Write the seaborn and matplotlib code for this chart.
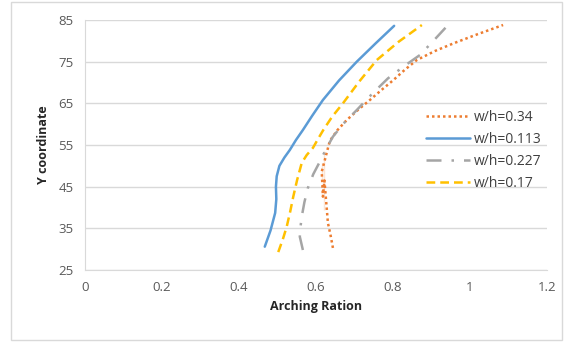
import matplotlib
matplotlib.use("Agg")
import matplotlib.pyplot as plt
import seaborn as sns
import pandas as pd

# w/h = 0.34 (dotted orange)
x_034 = [0.644, 0.638, 0.631, 0.622, 0.618, 0.615, 0.615, 0.622, 0.636, 0.655, 0.680,
         0.710, 0.740, 0.770, 0.800, 0.830, 0.862, 0.910, 0.960, 1.020, 1.086]
y_034 = [30.3, 33.3, 36.3, 39.5, 42.6, 46.5, 50.7, 53.5, 56.0, 58.5, 61.0,
         63.5, 65.8, 68.2, 70.5, 73.0, 75.4, 77.6, 79.5, 81.6, 83.8]

# w/h = 0.113 (solid blue)
x_0113 = [0.467, 0.482, 0.494, 0.497, 0.496, 0.498, 0.505, 0.518, 0.532, 0.548, 0.566,
          0.590, 0.618, 0.660, 0.706, 0.755, 0.803]
y_0113 = [30.6, 34.5, 38.7, 42.0, 45.0, 47.5, 50.0, 52.0, 53.8, 56.2, 58.6,
          62.0, 65.8, 70.5, 75.0, 79.4, 83.6]

# w/h = 0.227 (dash-dot gray)
x_0227 = [0.566, 0.558, 0.560, 0.563, 0.570, 0.579, 0.593, 0.610, 0.626, 0.644, 0.672,
          0.706, 0.745, 0.787, 0.830, 0.870, 0.905, 0.943]
y_0227 = [29.8, 33.0, 35.5, 37.8, 41.3, 44.7, 48.0, 51.0, 54.0, 57.0, 60.2,
          63.4, 67.2, 71.0, 74.0, 76.6, 80.0, 83.8]

# w/h = 0.17 (dashed gold)
x_017 = [0.502, 0.514, 0.524, 0.533, 0.541, 0.551, 0.563, 0.576, 0.592, 0.605, 0.619,
         0.642, 0.670, 0.712, 0.758, 0.815, 0.875]
y_017 = [29.3, 32.4, 35.4, 39.0, 42.6, 46.6, 50.7, 52.6, 54.3, 56.4, 58.6,
         61.8, 65.0, 70.2, 75.4, 79.8, 83.8]

series = [
    ("w/h=0.34", x_034, y_034, "#ED7D31", (0, (1, 1.2))),
    ("w/h=0.113", x_0113, y_0113, "#5B9BD5", "-"),
    ("w/h=0.227", x_0227, y_0227, "#A5A5A5", (0, (6, 4, 1, 4))),
    ("w/h=0.17", x_017, y_017, "#FFC000", (0, (3.5, 2))),
]

sns.set_style("white")
plt.rcParams["font.family"] = ["Open Sans", "DejaVu Sans"]

fig = plt.figure(figsize=(5.68, 3.42), dpi=100)
ax = fig.add_axes([0.1496, 0.2105, 0.8134, 0.731])

for name, xs, ys, col, ls in series:
    df = pd.DataFrame({"x": xs, "y": ys})
    sns.lineplot(data=df, x="x", y="y", sort=False, color=col, linestyle=ls,
                 linewidth=1.8, label=name, ax=ax)

ax.set_xlim(0, 1.2)
ax.set_ylim(25, 85)
ax.set_xticks([0, 0.2, 0.4, 0.6, 0.8, 1, 1.2])
ax.set_xticklabels(["0", "0.2", "0.4", "0.6", "0.8", "1", "1.2"])
ax.set_yticks([25, 35, 45, 55, 65, 75, 85])
ax.yaxis.grid(True, color="#d9d9d9", linewidth=1)
ax.xaxis.grid(False)
for s in ["top", "right"]:
    ax.spines[s].set_visible(False)
for s in ["left", "bottom"]:
    ax.spines[s].set_color("#d9d9d9")
ax.tick_params(axis="both", length=0, labelsize=9.5, colors="#595959", pad=8)

ax.set_xlabel("Arching Ration", fontsize=9, fontweight="bold", color="#262626")
ax.set_ylabel("Y coordinate", fontsize=9, fontweight="bold", color="#262626", labelpad=6)

leg = ax.legend(loc="upper left", bbox_to_anchor=(0.71, 0.69), frameon=False,
                fontsize=10, handlelength=3.2, handletextpad=0.3, labelspacing=0.5)
for t in leg.get_texts():
    t.set_color("#404040")

# outer chart border
fig.patches.append(plt.Rectangle((0.02, 0.006), 0.97, 0.988, transform=fig.transFigure,
                                 fill=False, edgecolor="#d9d9d9", linewidth=1))

fig.savefig("out.png", dpi=100)
